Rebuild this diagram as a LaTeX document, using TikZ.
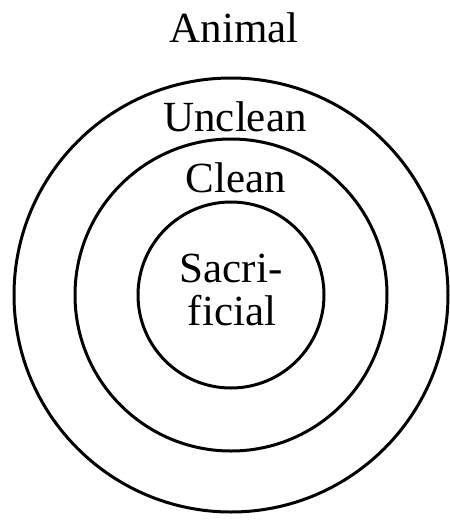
\documentclass[tikz,border=0pt]{standalone}
\usepackage{fontspec}
\setmainfont{Liberation Serif}
\begin{document}
\begin{tikzpicture}[x=1pt,y=-1pt,
  ring/.style={draw=black,line width=3pt},
  lbl/.style={anchor=base,inner sep=0pt,font=\fontsize{43}{43}\selectfont}]
\useasboundingbox (0,0) rectangle (450,520);
\coordinate (c) at (231,295);
\draw[ring] (c) circle[radius=217];
\draw[ring] (c) circle[radius=156];
\draw[ring] (c) circle[radius=93];
\node[lbl] (animal) at (234,42) {Animal};
\node[lbl] (unclean) at (235,131) {Unclean};
\node[lbl] (clean) at (236,192) {Clean};
\node[lbl] (sacri) at (231,282) {Sacri-};
\node[lbl] (ficial) at (232,325) {ficial};
\end{tikzpicture}
\end{document}
